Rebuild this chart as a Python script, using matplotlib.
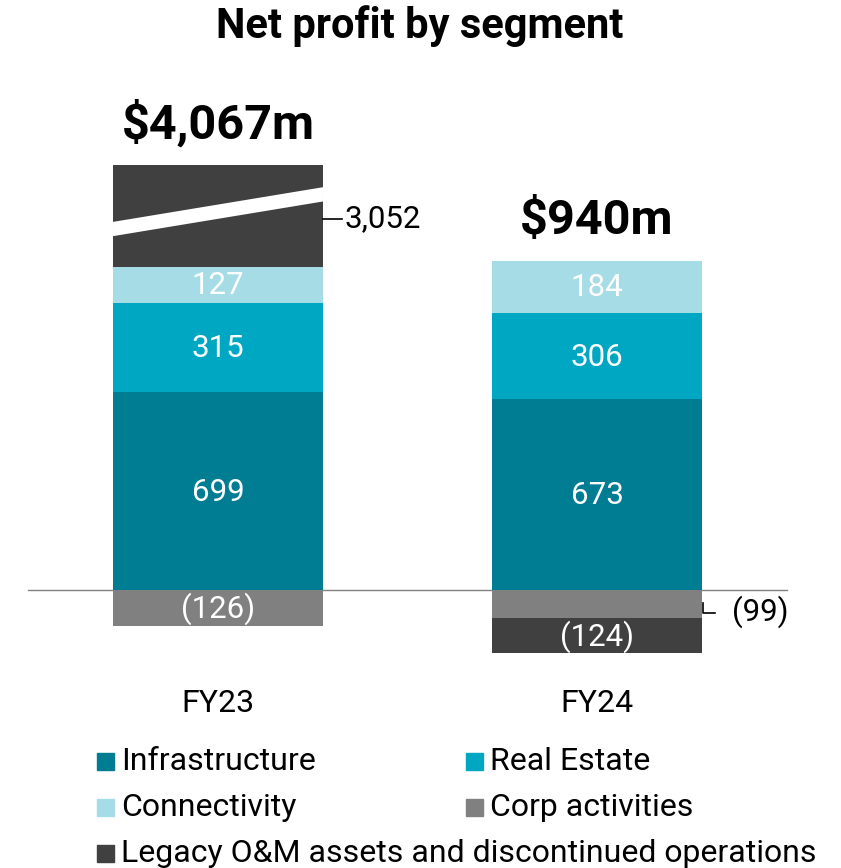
import numpy as np
import matplotlib.pyplot as plt
from matplotlib.patches import Polygon, Rectangle

plt.rcParams['font.family'] = ['Roboto', 'DejaVu Sans']

years = ["FY23", "FY24"]
segments = ["Infrastructure", "Real Estate", "Connectivity", "Corp activities",
            "Legacy O&M assets and discontinued operations"]
infrastructure = [699, 673]
real_estate = [315, 306]
connectivity = [127, 184]
corp = [-126, -99]
legacy = [3052, -124]
colors = ["#007d93", "#00a7c3", "#a6dce6", "#808080", "#404040"]

legacy_cap = 360  # FY23 legacy bar is drawn broken / truncated

W, H = 841, 868
fig = plt.figure(figsize=(W / 100, H / 100), dpi=100)
ax = fig.add_axes([0, 0, 1, 1])
ax.axis("off")

# scale: 0.2833 px per $m, zero line at y=590px, bars at x=218 and 597px
ppu = 0.2833
ax.set_ylim(-(H - 590) / ppu, 590 / ppu)
ax.set_xlim(-218 / 379, (W - 218) / 379)

x = np.arange(len(years))
bw = 0.554

ax.plot([-0.5, 1.5], [0, 0], color="#808080", lw=1, zorder=1)

pos = np.zeros(2)
neg = np.zeros(2)
series = [infrastructure, real_estate, connectivity, corp, legacy]
for vals, col in zip(series, colors):
    for i, v in enumerate(vals):
        shown = min(v, legacy_cap) if vals is legacy else v
        if v >= 0:
            b = pos[i]
            pos[i] += shown
        else:
            b = neg[i]
            neg[i] += shown
        ax.bar(x[i], shown, bw, bottom=b, color=col, zorder=2)
        mid = b + shown / 2
        txt = f"{v:,}" if v >= 0 else f"({-v})"
        if vals is legacy and v > legacy_cap:
            # break mark
            l, r = x[i] - bw / 2, x[i] + bw / 2
            poly = Polygon([(l, b + 0.30 * shown), (r, b + 0.64 * shown),
                            (r, b + 0.78 * shown), (l, b + 0.44 * shown)],
                           closed=True, color="white", zorder=3, lw=0)
            ax.add_patch(poly)
            ax.plot([r, r + 0.05], [b + 0.47 * shown] * 2, color="black", lw=1.2, zorder=3)
            ax.text(r + 0.058, b + 0.47 * shown, txt, ha="left", va="center",
                    fontsize=22.5, color="black")
        elif vals is corp and i == 1:
            r = x[i] + bw / 2
            ax.plot([r + 0.004, r + 0.004, r + 0.034], [mid + 3, mid - 32, mid - 32],
                    color="black", lw=1.2, zorder=3)
            ax.text(r + 0.08, mid - 28, txt, ha="left", va="center",
                    fontsize=22.5, color="black")
        else:
            ax.text(x[i], mid - 4, txt, ha="center", va="center",
                    fontsize=22.5, color="white", zorder=4)

totals = [sum(s[i] for s in series) for i in range(2)]
for i in range(2):
    ax.annotate(f"${totals[i]:,}m", (x[i], pos[i]), xytext=(0, 12),
                textcoords="offset points", ha="center", va="bottom",
                fontsize=35, fontweight="bold")
    ax.text(x[i], -400, years[i], ha="center", va="center", fontsize=23)

fig.text(420 / W, 1 - 26 / H, "Net profit by segment", ha="center", va="center",
         fontsize=30, fontweight="bold")

# legend drawn manually (2 columns, last entry spans)
leg_pos = [(97, 761), (466, 761), (97, 807), (466, 807), (97, 853)]
for (px, py), k in zip(leg_pos, range(len(segments))):
    fig.patches.append(Rectangle((px / W, 1 - (py + 8.5) / H), 17 / W, 17 / H,
                                 transform=fig.transFigure, color=colors[k]))
    fig.text((px + 24) / W, 1 - py / H, segments[k], ha="left", va="center",
             fontsize=23)

fig.savefig("out.png", dpi=100)
